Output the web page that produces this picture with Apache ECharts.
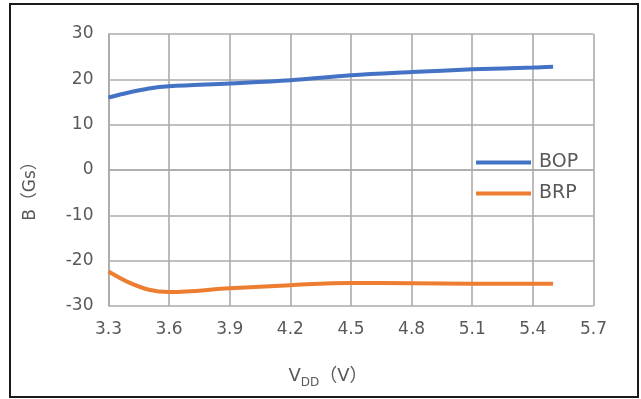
<!DOCTYPE html>
<html>
<head>
<meta charset="utf-8">
<script src="https://cdn.jsdelivr.net/npm/echarts@6/dist/echarts.min.js"></script>
<style>
  html, body { margin: 0; padding: 0; background: #fff; }
  #chart { width: 641px; height: 399px; }
</style>
</head>
<body>
<div id="chart"></div>
<script>
// Supply voltage (V) and the matching operate / release points (Gs)
const vdd = [3.3, 3.4, 3.5, 3.6, 3.9, 4.2, 4.5, 4.8, 5.1, 5.4, 5.5];
const bop = [16.0, 17.1, 18.0, 18.5, 19.1, 19.8, 20.9, 21.6, 22.2, 22.6, 22.8];
const brp = [-22.4, -24.8, -26.4, -26.9, -26.1, -25.4, -24.9, -25.0, -25.1, -25.1, -25.1];

const xTicks = { min: 3.3, max: 5.7, step: 0.3 };
const yTicks = { min: -30, max: 30, step: 10 };

const seriesNames = ['BOP', 'BRP'];
const seriesColors = ['#4472C4', '#ED7D31'];

const gridColor = '#ababab';
const labelColor = '#595959';
const fontFamily = '"DejaVu Sans", "Noto Sans CJK SC", sans-serif';

const chart = echarts.init(document.getElementById('chart'));

const axisStyle = {
  axisLine: { show: true, lineStyle: { color: gridColor, width: 1.6 } },
  axisTick: { show: false },
  splitLine: { show: true, lineStyle: { color: gridColor, width: 1.6 } }
};

chart.setOption({
  animation: false,
  backgroundColor: '#fff',
  grid: { left: 108.5, right: 47.5, top: 34, bottom: 93 },
  xAxis: Object.assign({
    type: 'value',
    min: xTicks.min,
    max: xTicks.max,
    interval: xTicks.step,
    axisLabel: {
      color: labelColor,
      fontSize: 17,
      fontFamily: fontFamily,
      margin: 15,
      formatter: v => v.toFixed(1)
    }
  }, axisStyle),
  yAxis: Object.assign({
    type: 'value',
    min: yTicks.min,
    max: yTicks.max,
    interval: yTicks.step,
    axisLabel: {
      color: labelColor,
      fontSize: 17,
      fontFamily: fontFamily,
      margin: 15
    }
  }, axisStyle),
  legend: {
    orient: 'vertical',
    left: 471,
    top: 147,
    icon: 'rect',
    itemWidth: 55,
    itemHeight: 4,
    itemGap: 10,
    textStyle: {
      color: labelColor,
      fontSize: 19,
      fontFamily: fontFamily,
      lineHeight: 21,
      padding: [0, 0, 0, 3]
    },
    data: seriesNames
  },
  series: [
    {
      name: seriesNames[0],
      type: 'line',
      data: vdd.map((x, i) => [x, bop[i]]),
      smooth: 0.35,
      symbol: 'none',
      lineStyle: { color: seriesColors[0], width: 4 },
      itemStyle: { color: seriesColors[0] }
    },
    {
      name: seriesNames[1],
      type: 'line',
      data: vdd.map((x, i) => [x, brp[i]]),
      smooth: 0.35,
      symbol: 'none',
      lineStyle: { color: seriesColors[1], width: 4 },
      itemStyle: { color: seriesColors[1] }
    }
  ],
  graphic: [
    {
      type: 'rect',
      shape: { x: 10, y: 4, width: 628, height: 393 },
      style: { fill: 'none', stroke: '#1a1a1a', lineWidth: 2 },
      silent: true
    },
    {
      type: 'text',
      x: 31,
      y: 187,
      rotation: Math.PI / 2,
      style: {
        text: 'B（Gs）',
        fill: labelColor,
        font: '17px ' + fontFamily,
        align: 'center',
        verticalAlign: 'middle'
      },
      silent: true
    },
    {
      type: 'text',
      x: 328,
      y: 376,
      style: {
        text: '{v|V}{s|DD}{v|（V）}',
        align: 'center',
        verticalAlign: 'middle',
        rich: {
          v: { fill: labelColor, fontSize: 18, fontFamily: fontFamily, verticalAlign: 'bottom' },
          s: { fill: labelColor, fontSize: 12, fontFamily: fontFamily, verticalAlign: 'bottom', padding: [0, 0, -4, 0] }
        }
      },
      silent: true
    }
  ]
});
</script>
</body>
</html>
